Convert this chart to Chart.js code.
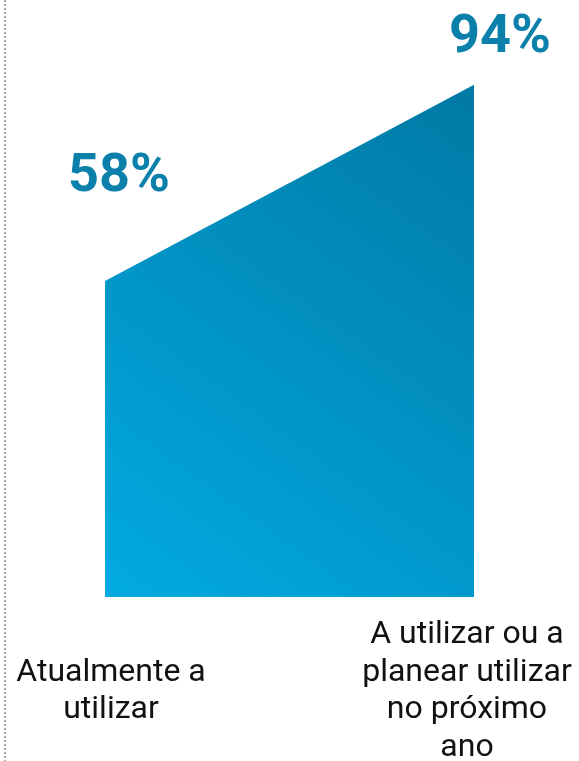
<!DOCTYPE html>
<html>
<head>
<meta charset="utf-8">
<script src="https://cdn.jsdelivr.net/npm/chart.js@4/dist/chart.umd.min.js"></script>
<style>
html,body{margin:0;padding:0;background:#fff;}
#wrap{position:relative;width:579px;height:761px;}
</style>
</head>
<body>
<div id="wrap"><canvas id="c" width="579" height="761"></canvas></div>
<script>
const categories = [["Atualmente a","utilizar"],["A utilizar ou a","planear utilizar","no próximo","ano"]];
const values = [58, 94];
const valueLabels = ["58%", "94%"];

const labelOffsets = [[14, -90], [26, -33]];

const dataLabelPlugin = {
  id: 'dataLabels',
  afterDatasetsDraw(chart) {
    const ctx = chart.ctx;
    const meta = chart.getDatasetMeta(0);
    ctx.save();
    ctx.font = 'bold 54px Roboto';
    ctx.fillStyle = '#0a80ab';
    ctx.textAlign = 'center';
    ctx.textBaseline = 'alphabetic';
    meta.data.forEach((pt, i) => {
      ctx.fillText(valueLabels[i], pt.x + labelOffsets[i][0], pt.y + labelOffsets[i][1]);
    });
    ctx.restore();
  },
  beforeDraw(chart) {
    const ctx = chart.ctx;
    ctx.save();
    ctx.strokeStyle = '#a8a8a8';
    ctx.lineWidth = 2;
    ctx.setLineDash([2, 2]);
    ctx.beginPath();
    ctx.moveTo(5, 0);
    ctx.lineTo(5, chart.height);
    ctx.stroke();
    ctx.restore();
  }
};

function gradient(context) {
  const chart = context.chart;
  const a = chart.chartArea;
  if (!a) return '#0090c4';
  const top = chart.scales.y.getPixelForValue(values[1]);
  const g = chart.ctx.createLinearGradient(a.left, a.bottom, a.right, top);
  g.addColorStop(0, '#02aae2');
  g.addColorStop(1, '#0179a4');
  return g;
}

new Chart(document.getElementById('c'), {
  type: 'line',
  data: {
    datasets: [{
      data: values.map((v, i) => ({x: i, y: v})),
      fill: 'origin',
      backgroundColor: gradient,
      borderWidth: 0,
      pointRadius: 0,
      tension: 0,
      xAxisID: 'x'
    }]
  },
  options: {
    responsive: false,
    animation: false,
    layout: { padding: { left: 105, right: 105, top: 52, bottom: 0 } },
    plugins: { legend: { display: false }, tooltip: { enabled: false } },
    scales: {
      x: {
        type: 'linear', min: 0, max: 1, display: false
      },
      xl: {
        type: 'linear', position: 'bottom',
        min: -0.01685, max: 1.0197,
        grid: { display: false, drawTicks: false },
        border: { display: false },
        afterBuildTicks(scale) { scale.ticks = [{value: 0}, {value: 1}]; },
        afterFit(scale) {
          scale.height = 164;
          scale.paddingLeft = 0;
          scale.paddingRight = 0;
        },
        ticks: {
          autoSkip: false,
          maxRotation: 0,
          padding: 38,
          crossAlign: 'center',
          color: '#111',
          font: { family: 'Roboto', size: 32, lineHeight: 1.172 },
          callback: (v, i) => categories[i]
        }
      },
      y: {
        display: false, min: 0, max: 100
      }
    }
  },
  plugins: [dataLabelPlugin]
});
</script>
</body>
</html>
